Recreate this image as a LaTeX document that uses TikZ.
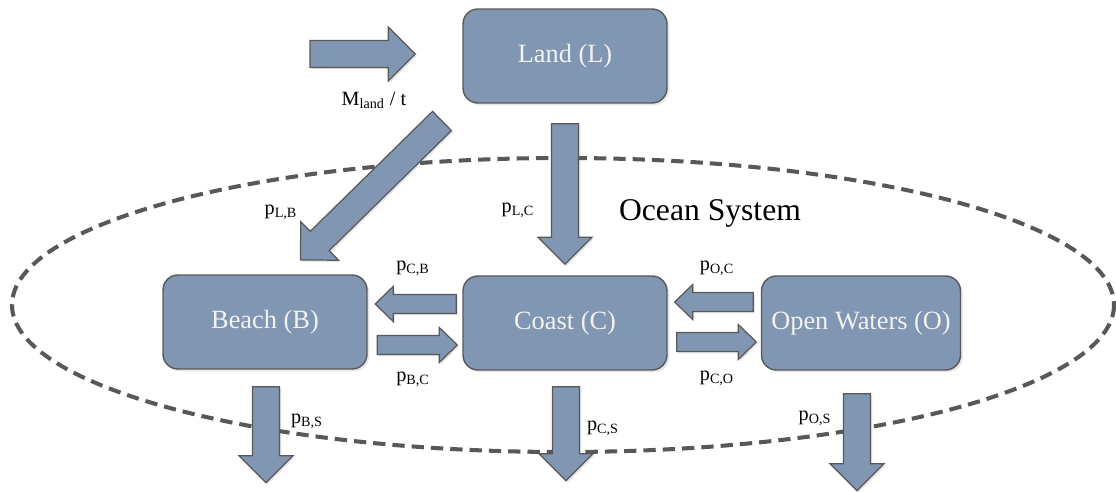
\documentclass[tikz,border=0pt]{standalone}
\usepackage{fontspec}
\setmainfont{Liberation Serif}
\usetikzlibrary{calc,shadows}

\definecolor{boxblue}{RGB}{128,150,178}
\definecolor{edgegray}{RGB}{88,88,88}

\tikzset{
  compart/.style={draw=edgegray, line width=0.8pt, fill=boxblue, rounded corners=8.5pt,
    minimum width=4.08cm, minimum height=1.88cm, text=white!95!black,
    font=\fontsize{15}{18}\selectfont,
    drop shadow={opacity=0.2, shadow xshift=1.3pt, shadow yshift=-1.3pt}},
  flow/.style={draw=edgegray, line width=0.7pt, fill=boxblue, line join=miter,
    drop shadow={opacity=0.2, shadow xshift=1pt, shadow yshift=-1pt}},
  rate/.style={font=\fontsize{11.5}{13}\selectfont},
  ocean/.style={draw=edgegray, line width=2.3pt, dash pattern=on 7pt off 4pt}
}

% block arrow from #1 to #2: shaft half width, head half width, head length
\newcommand{\fatarrow}[5]{%
  \path let \p1=($(#2)-(#1)$) in
    \pgfextra{\pgfmathsetmacro{\faang}{atan2(\y1,\x1)}%
              \pgfmathsetmacro{\falen}{veclen(\x1,\y1)}%
              \xdef\faang{\faang}\xdef\falen{\falen}};
  \begin{scope}[shift={(#1)}, rotate=\faang]
    \draw[flow] (0pt,-#3) -- ({\falen pt-#5},-#3) -- ({\falen pt-#5},-#4)
      -- (\falen pt,0pt) -- ({\falen pt-#5},#4) -- ({\falen pt-#5},#3)
      -- (0pt,#3) -- cycle;
  \end{scope}}
\newcommand{\bigflow}[2]{\fatarrow{#1}{#2}{0.27cm}{0.54cm}{0.54cm}}
\newcommand{\smallflow}[2]{\fatarrow{#1}{#2}{0.19cm}{0.35cm}{0.36cm}}

\begin{document}
\begin{tikzpicture}[x=0.02cm, y=-0.02cm]
  \useasboundingbox (0,0) rectangle (1116,492);

  % ocean system boundary
  \draw[ocean] (563,305) ellipse [x radius=551, y radius=147];
  \node[font=\fontsize{18}{21}\selectfont] (ocean) at (710,213) {Ocean System};

  % compartments
  \node[compart] (land) at (565,56) {Land (L)};
  \node[compart] (beach) at (265,322) {Beach (B)};
  \node[compart] (coast) at (565,323) {Coast (C)};
  \node[compart, minimum width=3.98cm] (open) at (861,323) {Open Waters (O)};

  % arrow ends
  \coordinate (mtail) at (310,54);
  \coordinate (mtip) at ($(land.west)+(-47,-2)$);
  \coordinate (lctail) at ($(land.south)+(0,20)$);
  \coordinate (lctip) at ($(coast.north)+(0,-11)$);
  \coordinate (lbtail) at (442,121);
  \coordinate (lbtip) at ($(beach.north)+(35,-14)$);
  \coordinate (cbtail) at ($(coast.west)+(-6,-19)$);
  \coordinate (cbtip) at ($(beach.east)+(7.5,-18)$);
  \coordinate (bctail) at ($(beach.east)+(9.5,23)$);
  \coordinate (bctip) at ($(coast.west)+(-5,22)$);
  \coordinate (octail) at ($(open.west)+(-7.5,-21)$);
  \coordinate (octip) at ($(coast.east)+(7,-21)$);
  \coordinate (cotail) at ($(coast.east)+(9,19)$);
  \coordinate (cotip) at ($(open.west)+(-4.5,19)$);
  \coordinate (bstail) at ($(beach.south)+(1,17)$);
  \coordinate (bstip) at ($(beach.south)+(1,113)$);
  \coordinate (cstail) at ($(coast.south)+(1,16)$);
  \coordinate (cstip) at ($(coast.south)+(1,110)$);
  \coordinate (ostail) at ($(open.south)+(-4,23)$);
  \coordinate (ostip) at ($(open.south)+(-4,120)$);

  % flows
  \bigflow{mtail}{mtip}
  \bigflow{lctail}{lctip}
  \bigflow{lbtail}{lbtip}
  \smallflow{cbtail}{cbtip}
  \smallflow{bctail}{bctip}
  \smallflow{octail}{octip}
  \smallflow{cotail}{cotip}
  \bigflow{bstail}{bstip}
  \bigflow{cstail}{cstip}
  \bigflow{ostail}{ostip}

  % rates
  \node[rate] (mland) at (374,100) {M\textsubscript{land} / t};
  \node[rate] (plb) at (281,212) {p\textsubscript{L,B}};
  \node[rate] (plc) at (518,210) {p\textsubscript{L,C}};
  \node[rate] (pcb) at (413,268) {p\textsubscript{C,B}};
  \node[rate] (pbc) at (413,379) {p\textsubscript{B,C}};
  \node[rate] (poc) at (717,268) {p\textsubscript{O,C}};
  \node[rate] (pco) at (717,378) {p\textsubscript{C,O}};
  \node[rate] (pbs) at (307,421) {p\textsubscript{B,S}};
  \node[rate] (pcs) at (603,428) {p\textsubscript{C,S}};
  \node[rate] (pos) at (815,418) {p\textsubscript{O,S}};
\end{tikzpicture}
\end{document}
